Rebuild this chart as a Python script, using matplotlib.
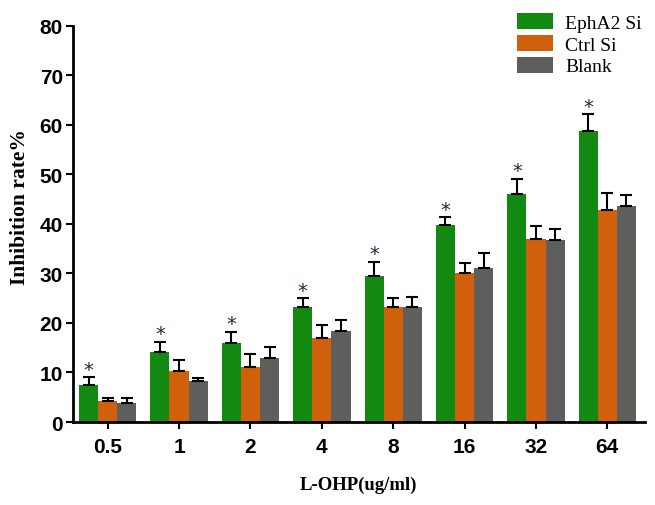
import numpy as np
import matplotlib
matplotlib.use("Agg")
import matplotlib.pyplot as plt

# values
doses = ["0.5", "1", "2", "4", "8", "16", "32", "64"]
groups = ["EphA2 Si", "Ctrl Si", "Blank"]
epha2 = [7.5, 14.2, 16.0, 23.3, 29.4, 39.8, 46.1, 58.7]
epha2_err = [1.6, 2.0, 2.2, 1.7, 3.0, 1.5, 3.0, 3.4]
ctrl = [4.2, 10.4, 11.2, 17.0, 23.2, 30.0, 37.0, 42.9]
ctrl_err = [0.7, 2.1, 2.5, 2.6, 1.8, 2.1, 2.5, 3.3]
blank = [3.9, 8.3, 12.9, 18.4, 23.2, 31.0, 36.8, 43.7]
blank_err = [1.0, 0.6, 2.2, 2.1, 2.1, 3.1, 2.2, 2.1]

colors = ["#128a12", "#d0600c", "#5e5e5c"]
sans = "Liberation Sans"
serif = "Liberation Serif"

fig = plt.figure(figsize=(6.55, 5.06), dpi=100)
ax = fig.add_axes([0.111, 0.164, 0.874, 0.783])

x = np.arange(len(doses))
w = 0.268
series = [(epha2, epha2_err), (ctrl, ctrl_err), (blank, blank_err)]
for i, (vals, errs) in enumerate(series):
    pos = x + (i - 1) * w
    ax.bar(pos, vals, width=w, color=colors[i], edgecolor="none", label=groups[i])
    ax.errorbar(pos, vals, yerr=[np.zeros(len(vals)), errs], fmt="none",
                ecolor="black", elinewidth=1.5, capsize=4, capthick=1.5)

# significance stars over EphA2 Si
for xi, v, e in zip(x - w, epha2, epha2_err):
    ax.text(xi, v + e + 1.6, "*", ha="center", va="center", fontsize=14,
            color="#1c2a3c", family="DejaVu Sans")

ax.set_xlim(-0.49, 7.53)
ax.set_ylim(0, 80)
ax.set_yticks(np.arange(0, 81, 10))
ax.set_xticks(x)
ax.set_xticklabels(doses)
for lab in ax.get_xticklabels() + ax.get_yticklabels():
    lab.set_fontfamily(sans)
    lab.set_fontweight("bold")
    lab.set_fontsize(15)

ax.spines["top"].set_visible(False)
ax.spines["right"].set_visible(False)
ax.spines["left"].set_linewidth(2)
ax.spines["bottom"].set_linewidth(2)
ax.tick_params(axis="y", length=5, width=1.5, pad=2)
ax.tick_params(axis="x", length=5, width=1.5, pad=6)

ax.set_ylabel("Inhibition rate%", family=serif, fontweight="bold", fontsize=15.5)
ax.yaxis.set_label_coords(-0.074, 0.545)
ax.set_xlabel("L-OHP(ug/ml)", family=serif, fontweight="bold", fontsize=13.5, labelpad=14)

fig.legend(loc="upper left", bbox_to_anchor=(0.789, 0.972), frameon=False,
           prop={"family": serif, "size": 14}, handlelength=1.85, handleheight=0.9,
           handletextpad=0.65, labelspacing=0.15, borderpad=0, borderaxespad=0)

fig.savefig("out.png", dpi=100)
